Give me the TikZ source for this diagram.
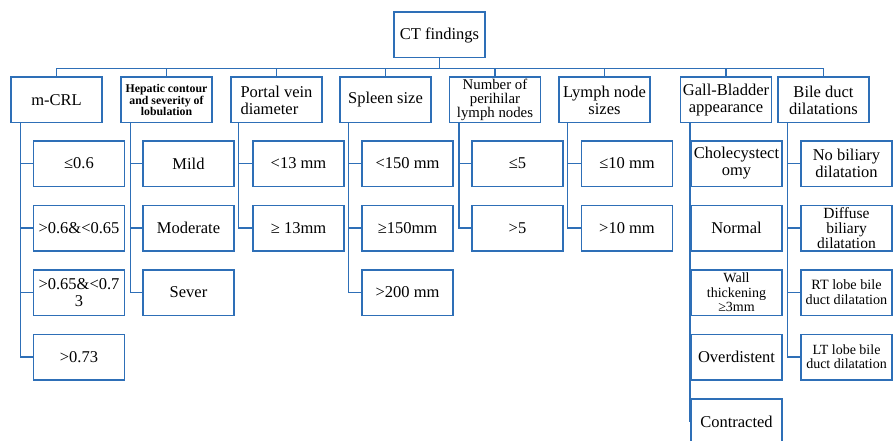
\documentclass[tikz,border=0pt]{standalone}
\usepackage{fontspec}
\setmainfont{Liberation Serif}
\definecolor{bl}{HTML}{2E6FB7}
\begin{document}
\begin{tikzpicture}[x=1pt,y=-1pt,
  box/.style={draw=bl,line width=1.5pt,minimum width=91pt,minimum height=45.5pt,inner sep=1pt,align=center,text=black,font=\fontsize{16.5}{17}\selectfont},
  link/.style={draw=bl,line width=1.5pt}]
\useasboundingbox (0,0) rectangle (896,441);
% top
\node[box] (ct) at (439.5,35) {CT findings};
% headers
\node[box] (h1) at (56.5,100) {m-CRL};
\node[box,font=\bfseries\fontsize{11.8}{10}\selectfont] (h2) at (166.5,100) {Hepatic contour\\and severity of\\lobulation};
\node[box,align=left] (h3) at (276.5,100) {Portal vein\\diameter};
\node[box] (h4) at (385.5,100) {Spleen size};
\node[box,font=\fontsize{14.8}{13.8}\selectfont] (h5) at (495,100) {Number of\\perihilar\\lymph nodes};
\node[box] (h6) at (604.5,100) {Lymph node\\sizes};
\node[box] (h7) at (726,100) {Gall-Bladder\\appearance};
\node[box] (h8) at (823.5,100) {Bile duct\\dilatations};
\foreach \h in {h1,h2,h3,h4,h5,h6,h7,h8}
  \draw[link] (ct.south) -- ++(0,10) -| (\h.north);
% column 1
\node[box] (c11) at (79,163.5) {≤0.6};
\node[box] (c12) at (79,228) {>0.6\&<0.65};
\node[box] (c13) at (79,292.5) {>0.65\&<0.7\\3};
\node[box] (c14) at (79,357) {>0.73};
% column 2
\node[box] (c21) at (188.5,163.5) {Mild};
\node[box] (c22) at (188.5,228) {Moderate};
\node[box] (c23) at (188.5,292.5) {Sever};
% column 3
\node[box] (c31) at (298.5,163.5) {<13 mm};
\node[box] (c32) at (298.5,228) {≥ 13mm};
% column 4
\node[box] (c41) at (407.5,163.5) {<150 mm};
\node[box] (c42) at (407.5,228) {≥150mm};
\node[box] (c43) at (407.5,292.5) {>200 mm};
% column 5
\node[box] (c51) at (517.5,163.5) {≤5};
\node[box] (c52) at (517.5,228) {>5};
% column 6
\node[box] (c61) at (627,163.5) {≤10 mm};
\node[box] (c62) at (627,228) {>10 mm};
% column 7
\node[box] (c71) at (736.5,163.5) {Cholecystect\\omy};
\node[box] (c72) at (736.5,228) {Normal};
\node[box,font=\fontsize{14}{14.5}\selectfont] (c73) at (736.5,292.5) {Wall\\thickening\\≥3mm};
\node[box] (c74) at (736.5,357) {Overdistent};
\node[box] (c75) at (736.5,421.5) {Contracted};
% column 8
\node[box] (c81) at (846.5,163.5) {No biliary\\dilatation};
\node[box,font=\fontsize{15.5}{15}\selectfont] (c82) at (846.5,228) {Diffuse\\biliary\\dilatation};
\node[box,font=\fontsize{14.2}{15}\selectfont] (c83) at (846.5,292.5) {RT lobe bile\\duct dilatation};
\node[box,font=\fontsize{14}{14}\selectfont] (c84) at (846.5,357) {LT lobe bile\\duct dilatation};
% spines
\coordinate (s1) at ([xshift=10pt]h1.south west);
\coordinate (s2) at ([xshift=10pt]h2.south west);
\coordinate (s3) at ([xshift=8pt]h3.south west);
\coordinate (s4) at ([xshift=9pt]h4.south west);
\coordinate (s5) at ([xshift=10pt]h5.south west);
\coordinate (s6) at ([xshift=9pt]h6.south west);
\coordinate (s7) at ([xshift=10pt]h7.south west);
\coordinate (s8) at ([xshift=10pt]h8.south west);
\foreach \c in {c11,c12,c13,c14} \draw[link] (s1) |- (\c.west);
\foreach \c in {c21,c22,c23} \draw[link] (s2) |- (\c.west);
\foreach \c in {c31,c32} \draw[link] (s3) |- (\c.west);
\foreach \c in {c41,c42,c43} \draw[link] (s4) |- (\c.west);
\foreach \c in {c51,c52} \draw[link] (s5) |- (\c.west);
\foreach \c in {c61,c62} \draw[link] (s6) |- (\c.west);
\foreach \c in {c71,c72,c73,c74,c75} \draw[link] (s7) |- (\c.west);
\foreach \c in {c81,c82,c83,c84} \draw[link] (s8) |- (\c.west);
\end{tikzpicture}
\end{document}
